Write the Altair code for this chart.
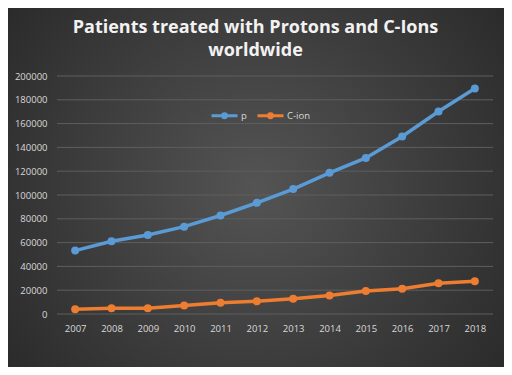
import altair as alt
import pandas as pd

years = [str(y) for y in range(2007, 2019)]
protons = [53300, 61100, 66400, 73400, 82800, 93400, 105000, 118600, 131100, 149200, 170200, 189500]
carbon = [3900, 4800, 4900, 7100, 9400, 10700, 12800, 15600, 19400, 21300, 25800, 27500]
series = ["p", "C-ion"]
colors = ["#5b9bd5", "#ed7d31"]
y_ticks = list(range(0, 200001, 20000))
title_lines = ["Patients treated with Protons and C-Ions", "worldwide"]

df = pd.DataFrame({
    "year": years * 2,
    "value": protons + carbon,
    "series": [series[0]] * len(years) + [series[1]] * len(years),
})
grid_df = pd.DataFrame({"value": y_ticks})

W, H = 436, 238
PL, PT, PR, PB = 49, 68, 11, 53

bg = alt.Chart(alt.Data(values=[{}])).mark_rect(
    fill={
        "gradient": "radial",
        "x1": 0.5, "y1": 0.5, "r1": 0,
        "x2": 0.5, "y2": 0.5, "r2": 0.75,
        "stops": [
            {"offset": 0, "color": "#545454"},
            {"offset": 1, "color": "#222222"},
        ],
    }
).encode(
    x=alt.value(-PL), x2=alt.value(W + PR),
    y=alt.value(-PT), y2=alt.value(H + PB),
)

y_scale = alt.Scale(domain=[0, 200000], nice=False)
y_axis = alt.Axis(values=y_ticks, tickCount=11, format="d", domain=False, ticks=False,
                  grid=False, labelPadding=10, labelColor="#d9d9d9",
                  labelFontSize=9.5, labelFont="Open Sans", zindex=1,
                  labelOverlap=False)

grid = alt.Chart(grid_df).mark_rule(color="#5e5e5e", strokeWidth=1).encode(
    y=alt.Y("value:Q", scale=y_scale, title=None, axis=y_axis),
    x=alt.value(0), x2=alt.value(W),
)

x_enc = alt.X(
    "year:N", sort=years, title=None,
    scale=alt.Scale(type="point", padding=0.5),
    axis=alt.Axis(labelAngle=0, domain=False, ticks=False, grid=False,
                  labelPadding=9, labelColor="#d9d9d9", labelFontSize=9.5,
                  labelFont="Open Sans", zindex=1, labelOverlap=False),
)
y_enc = alt.Y("value:Q", scale=y_scale, title=None, axis=y_axis)
color_enc = alt.Color(
    "series:N", sort=series,
    scale=alt.Scale(domain=series, range=colors),
    legend=alt.Legend(
        title=None, orient="none", legendX=153, legendY=25,
        direction="horizontal", padding=0,
        symbolType="M -1 0 L 1 0 M -0.15 0 A 0.15 0.15 0 1 0 0.15 0 A 0.15 0.15 0 1 0 -0.15 0",
        symbolSize=676, symbolStrokeWidth=3,
        labelColor="#d9d9d9", labelFontSize=9.5, labelFont="Open Sans",
        labelOffset=2, columnPadding=4,
    ),
)

lines = alt.Chart(df).mark_line(strokeWidth=3.5).encode(
    x=x_enc, y=y_enc, color=color_enc, detail="series:N"
)
points = alt.Chart(df).mark_point(filled=True, size=64, opacity=1).encode(
    x=x_enc, y=y_enc, color=alt.Color("series:N", sort=series,
                                       scale=alt.Scale(domain=series, range=colors),
                                       legend=None)
)

title_x = 198.5
title_layers = []
for i, line in enumerate(title_lines):
    ty = -43.5 + i * 23
    txt = alt.Chart(alt.Data(values=[{}])).mark_text(
        text=line, font="Open Sans", fontSize=18, fontWeight="bold",
        color="#f2f2f2", align="center", baseline="alphabetic",
    ).encode(x=alt.value(title_x), y=alt.value(ty))
    title_layers.append(txt)

chart = alt.layer(bg, grid, lines, points, *title_layers).properties(
    width=W, height=H,
    autosize=alt.AutoSizeParams(type="none"),
    padding={"left": PL, "top": PT, "right": PR, "bottom": PB},
).configure(background="#2b2b2b").configure_view(strokeWidth=0)

chart.save("out.html", embed_options={"renderer": "svg", "actions": False})
